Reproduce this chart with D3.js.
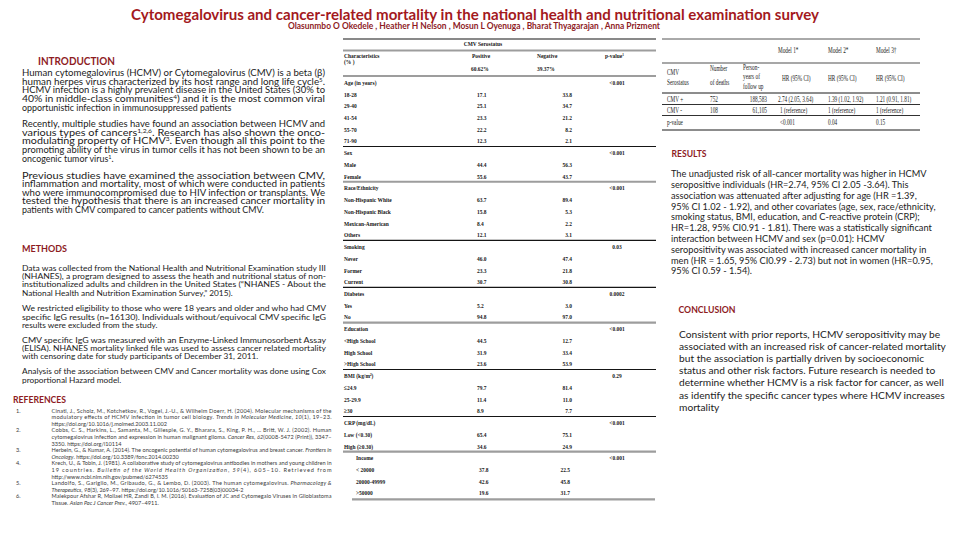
<!DOCTYPE html>
<html><head><meta charset="utf-8">
<script src="https://cdn.jsdelivr.net/npm/d3@7"></script>
<style>body{margin:0;background:#fff}svg{display:block}</style>
</head><body>
<svg id="poster" width="960" height="540"></svg>
<script>
// ================= DATA =================
const title = "Cytomegalovirus and cancer-related mortality in the national health and nutritional examination survey";
const authors = "Olasunmbo O Okedele , Heather H Nelson , Mosun L Oyenuga , Bharat Thyagarajan , Anna Prizment";

const introParagraphs = [
  ["Human cytomegalovirus (HCMV) or Cytomegalovirus (CMV) is a beta (β)",
   "human herpes virus characterized by its host range and long life cycle^{5}.",
   "HCMV infection is a highly prevalent disease in the United States (30% to",
   "40% in middle-class communities^{4}) and it is the most common viral",
   "opportunistic infection in immunosuppressed patients"],
  ["Recently, multiple studies have found an association between HCMV and",
   "various types of cancers^{1,2,6}. Research has also shown the onco-",
   "modulating property of HCMV^{3}. Even though all this point to the",
   "promoting ability of the virus in tumor cells it has not been shown to be an",
   "oncogenic tumor virus^{1}."],
  ["Previous studies have examined the association between CMV,",
   "inflammation and mortality, most of which were conducted in patients",
   "who were immunocompromised due to HIV infection or transplants. We",
   "tested the hypothesis that there is an increased cancer mortality in",
   "patients with CMV compared to cancer patients without CMV."]
];

const methodsParagraphs = [
  ["Data was collected from the National Health and Nutritional Examination study III",
   "(NHANES), a program designed to assess the heath and nutritional status of non-",
   "institutionalized adults and children in the United States (“NHANES - About the",
   "National Health and Nutrition Examination Survey,” 2015)."],
  ["We restricted eligibility to those who were 18 years and older and who had CMV",
   "specific IgG results (n=16130). Individuals without/equivocal CMV specific IgG",
   "results were excluded from the study."],
  ["CMV specific IgG was measured with an Enzyme-Linked Immunosorbent Assay",
   "(ELISA). NHANES mortality linked file was used to assess cancer related mortality",
   "with censoring date for study participants of December 31, 2011."],
  ["Analysis of the association between CMV and Cancer mortality was done using Cox",
   "proportional Hazard model."]
];

const references = [
  ["Cinatl, J., Scholz, M., Kotchetkov, R., Vogel, J.-U., & Wilhelm Doerr, H. (2004). Molecular mechanisms of the",
   "modulatory effects of HCMV infection in tumor cell biology. *Trends in Molecular Medicine*, *10*(1), 19–23.",
   "https://doi.org/10.1016/j.molmed.2003.11.002"],
  ["Cobbs, C. S., Harkins, L., Samanta, M., Gillespie, G. Y., Bharara, S., King, P. H., … Britt, W. J. (2002). Human",
   "cytomegalovirus infection and expression in human malignant glioma. *Cancer Res*, *62*(0008-5472 (Print)), 3347–",
   "3350. https://doi.org/l10114"],
  ["Herbein, G., & Kumar, A. (2014). The oncogenic potential of human cytomegalovirus and breast cancer. *Frontiers in*",
   "*Oncology*. https://doi.org/10.3389/fonc.2014.00230"],
  ["Krech, U., & Tobin, J. (1981). A collaborative study of cytomegalovirus antibodies in mothers and young children in",
   "19 countries. *Bulletin of the World Health Organization*, *59*(4), 605–10. Retrieved from",
   "http://www.ncbi.nlm.nih.gov/pubmed/6274535"],
  ["Landolfo, S., Gariglio, M., Gribaudo, G., & Lembo, D. (2003). The human cytomegalovirus. *Pharmacology &*",
   "*Therapeutics*, *98*(3), 269–97. https://doi.org/10.1016/S0163-7258(03)00034-2"],
  ["Malekpour Afshar R, Mollaei HR, Zandi B, I. M. (2016). Evaluation of JC and Cytomegalo Viruses in Glioblastoma",
   "Tissue. *Asian Pac J Cancer Prev.*, 4907–4911."]
];

const resultsLines = [
  "The unadjusted risk of all-cancer mortality was higher in HCMV",
  "seropositive individuals (HR=2.74, 95% CI 2.05 -3.64). This",
  "association was attenuated after adjusting for age (HR =1.39,",
  "95% CI 1.02 - 1.92), and other covariates (age, sex, race/ethnicity,",
  "smoking status, BMI, education, and C-reactive protein (CRP);",
  "HR=1.28, 95% CI0.91 - 1.81).  There was a statistically significant",
  "interaction between HCMV and sex (p=0.01): HCMV",
  "seropositivity was associated with increased cancer mortality in",
  "men (HR = 1.65, 95% CI0.99 - 2.73) but not in women (HR=0.95,",
  "95% CI 0.59 - 1.54)."
];

const conclusionLines = [
  "Consistent with prior reports, HCMV seropositivity may be",
  "associated with an increased risk of cancer-related mortality",
  "but the association is partially driven by socioeconomic",
  "status and other risk factors. Future research is needed to",
  "determine whether HCMV is a risk factor for cancer, as well",
  "as identify the specific cancer types where HCMV increases",
  "mortality"
];

// Table 1: characteristics by CMV serostatus
const serostatusShare = ["60.62%", "39.37%"];
const groups = ["Age (in years)", "Sex", "Race/Ethnicity", "Smoking", "Diabetes", "Education", "BMI (kg/m²)", "CRP (mg/dL)", "Income"];
const groupP = ["<0.001", "<0.001", "<0.001", "0.03", "0.0002", "<0.001", "0.29", "<0.001", "<0.001"];
const levels = [
  ["18-28", "29-40", "41-54", "55-70", "71-90"],
  ["Male", "Female"],
  ["Non-Hispanic White", "Non-Hispanic Black", "Mexican-American", "Others"],
  ["Never", "Former", "Current"],
  ["Yes", "No"],
  ["<High School", "High School", ">High School"],
  ["≤24.9", "25-29.9", "≥30"],
  ["Low (<0.30)", "High (≥0.30)"],
  ["< 20000", "20000-49999", ">50000"]
];
const positivePct = [[17.1, 25.1, 23.3, 22.2, 12.3], [44.4, 55.6], [63.7, 15.8, 8.4, 12.1], [46.0, 23.3, 30.7], [5.2, 94.8], [44.5, 31.9, 23.6], [79.7, 11.4, 8.9], [65.4, 34.6], [37.8, 42.6, 19.6]];
const negativePct = [[33.8, 34.7, 21.2, 8.2, 2.1], [56.3, 43.7], [89.4, 5.3, 2.2, 3.1], [47.4, 21.8, 30.8], [3.0, 97.0], [12.7, 33.4, 53.9], [81.4, 11.0, 7.7], [75.1, 24.9], [22.5, 45.8, 31.7]];

// Table 2: hazard ratios
const serostatus = ["CMV +", "CMV -"];
const deaths = [752, 108];
const personYears = [188583, 61105];
const models = ["Model 1*", "Model 2*", "Model 3†"];
const hrPositive = [2.74, 1.39, 1.21];
const ciLow = [2.05, 1.02, 0.91];
const ciHigh = [3.64, 1.92, 1.81];
const modelP = ["<0.001", "0.04", "0.15"];

// ================= DRAWING =================
const svg = d3.select("#poster");
const SANS = "Lato, 'Open Sans', sans-serif";
const SERIF = "'Liberation Serif', 'DejaVu Serif', serif";
const TITLE_RED = "#a3191d";
const HEAD_RED = "#8e1c1f";

function addRich(t, str) {
  str.split(/(\^\{[^}]*\}|\*[^*]+\*)/).filter(s => s.length).forEach(p => {
    if (p.startsWith("^{")) t.append("tspan").attr("baseline-shift", "super").style("font-size", "0.62em").text(p.slice(2, -1));
    else if (p.length > 1 && p.startsWith("*") && p.endsWith("*")) t.append("tspan").style("font-style", "italic").text(p.slice(1, -1));
    else t.append("tspan").text(p);
  });
}

function fitted(text, x, y, size, w, color, weight) {
  svg.append("text").attr("x", x).attr("y", y).attr("dy", "0.35em")
    .attr("font-family", SANS).attr("font-weight", weight || 700).attr("font-size", size)
    .attr("fill", color).attr("textLength", w).attr("lengthAdjust", "spacingAndGlyphs").text(text);
}

function block(paras, o) {
  const g = svg.append("g").attr("font-family", SANS).attr("fill", o.fill || "#1c1c1c");
  const items = [];
  paras.forEach((lines, pi) => lines.forEach((ln, li) => {
    const t = g.append("text").attr("x", o.x).attr("y", o.starts[pi] + li * o.lh).attr("dy", "0.35em").attr("font-size", 10);
    addRich(t, ln);
    items.push({ t, last: li === lines.length - 1 });
  }));
  const maxW = d3.max(items, d => d.t.node().getComputedTextLength());
  let size = 10 * o.fitWidth / maxW;
  if (o.maxSize) size = Math.min(size, o.maxSize);
  items.forEach(d => d.t.attr("font-size", size));
  if (o.justify) items.filter(d => !d.last).forEach(d => d.t.attr("textLength", o.width).attr("lengthAdjust", o.adjust || "spacing"));
  return g;
}

// Title & authors
fitted(title, 131, 14, 16, 688, TITLE_RED, 700);
fitted(authors, 288, 26.5, 8.5, 372, HEAD_RED, 700);

// Introduction
fitted("INTRODUCTION", 38, 61, 11, 77, HEAD_RED);
block(introParagraphs, { x: 22, starts: [73, 124, 175.5], lh: 8.6, width: 303, fitWidth: 300, maxSize: 8.9, justify: true, adjust: "spacingAndGlyphs" });

// Methods
fitted("METHODS", 22, 248, 10, 45, HEAD_RED);
block(methodsParagraphs, { x: 22, starts: [268, 308.5, 340, 371.5], lh: 8.3, width: 304, fitWidth: 302, maxSize: 8.4, justify: true, adjust: "spacingAndGlyphs" });

// References
fitted("REFERENCES", 13, 399, 10, 53, HEAD_RED);
{
  const starts = [];
  let acc = 0;
  references.forEach(r => { starts.push(410.7 + acc * 6.6); acc += r.length; });
  const rg = block(references, { x: 51.5, starts, lh: 6.6, width: 280, fitWidth: 278, justify: true, fill: "#3a3a3a" });
  const fs = rg.select("text").attr("font-size");
  rg.selectAll("text.num").data(references).join("text").attr("class", "num")
    .attr("x", 16).attr("y", (d, i) => starts[i]).attr("dy", "0.35em").attr("font-size", fs)
    .text((d, i) => (i + 1) + ".");
}

// Results
fitted("RESULTS", 671.5, 154, 8.5, 35, HEAD_RED);
block([resultsLines], { x: 671, starts: [174], lh: 10.8, fitWidth: 265, justify: false });

// Conclusion
fitted("CONCLUSION", 678.5, 310, 9, 57, HEAD_RED);
block([conclusionLines], { x: 679, starts: [334], lh: 12.2, fitWidth: 267, justify: false });

// ---------- Table 1 ----------
function ctext(g, x, y, str, anchor, size, sx, weight) {
  return g.append("text").attr("transform", `translate(${x},${y}) scale(${sx},1)`)
    .attr("dy", "0.35em").attr("text-anchor", anchor || "start").attr("font-size", size)
    .attr("font-weight", weight || 400).text(str);
}
{
  const g = svg.append("g").attr("font-family", SERIF).attr("fill", "#151515");
  const X0 = 343, X1 = 656;
  const hline = (y, kind, xa, xb) => g.append("line").attr("x1", xa ?? X0).attr("x2", xb ?? X1).attr("y1", y).attr("y2", y)
    .attr("stroke", kind === "g" ? "#9d9d9d" : "#151515").attr("stroke-width", kind === "g" ? 2.2 : 1.1);
  hline(39, "k");
  hline(50.5, "g");
  hline(76, "g");
  const S = 7.1, SX = 0.77;
  ctext(g, 483, 44, "CMV Serostatus", "middle", S, SX, 700);
  ctext(g, 344, 55.5, "Characteristics", "start", S, SX, 700);
  ctext(g, 344, 62, "(% )", "start", S, SX, 700);
  ctext(g, 472, 56, "Positive", "start", S, SX, 700);
  ctext(g, 537, 56, "Negative", "start", S, SX, 700);
  const pv = ctext(g, 605, 56, "p-value", "start", S, SX, 700);
  pv.append("tspan").attr("baseline-shift", "super").style("font-size", "0.6em").text("1");
  ctext(g, 471, 69, serostatusShare[0], "start", S, SX, 700);
  ctext(g, 537, 69, serostatusShare[1], "start", S, SX, 700);

  const flat = [];
  const lastIdx = [];
  groups.forEach((name, gi) => {
    flat.push({ label: name, p: groupP[gi], gi, header: true });
    levels[gi].forEach((lv, li) => flat.push({ label: lv, pos: positivePct[gi][li], neg: negativePct[gi][li], gi }));
    lastIdx.push(flat.length - 1);
  });
  const yRow = d3.scaleLinear().domain([0, flat.length - 1]).range([82.3, 493]);
  const f1 = d3.format(".1f");
  const isIncome = d => d.gi === groups.length - 1;
  flat.forEach((d, i) => {
    const y = yRow(i);
    ctext(g, 344 + (isIncome(d) ? 12 : 0), y, d.label, "start", S, SX, 700);
    if (d.header) ctext(g, 617, y, d.p, "middle", S, SX, 700);
    else {
      ctext(g, 477 + (isIncome(d) ? 2 : 0), y, f1(d.pos), "start", S, SX, 700);
      ctext(g, 572 - (isIncome(d) ? 2 : 0), y, f1(d.neg), "end", S, SX, 700);
    }
  });
  const sepKinds = ["k", "g", "k", "k", "g", "k", "k", "g", "g"];
  lastIdx.forEach((li, gi) => {
    if (gi < lastIdx.length - 1) hline((yRow(li) + yRow(li + 1)) / 2 - 0.3, sepKinds[gi]);
    else hline(yRow(li) + 6.3, sepKinds[gi], 352, 655);
  });
}

// ---------- Table 2 ----------
{
  const g = svg.append("g").attr("font-family", SERIF).attr("fill", "#1a1a1a");
  const X0 = 662, X1 = 920;
  const hline = (y, c, w) => g.append("line").attr("x1", X0).attr("x2", X1).attr("y1", y).attr("y2", y).attr("stroke", c).attr("stroke-width", w);
  hline(39, "#555", 1);
  hline(63, "#8a8a8a", 1.6);
  hline(93, "#1a1a1a", 1);
  hline(104.5, "#1a1a1a", 0.9);
  hline(115.5, "#1a1a1a", 0.9);
  hline(130, "#1a1a1a", 1);
  const S = 7.8, SX = 0.68;
  const mx = [778, 828, 876];
  models.forEach((m, i) => ctext(g, mx[i], 50.5, m, "start", S, SX));
  ctext(g, 667, 72.5, "CMV", "start", S, SX);
  ctext(g, 667, 82.5, "Serostatus", "start", S, SX);
  ctext(g, 710, 68, "Number", "start", S, SX);
  ctext(g, 710, 82.5, "of deaths", "start", S, SX);
  ctext(g, 743, 67, "Person-", "start", S, SX);
  ctext(g, 743, 76.5, "years of", "start", S, SX);
  ctext(g, 743, 86, "follow up", "start", S, SX);
  mx.forEach((x, i) => ctext(g, x + (i === 0 ? 4 : 0), 78, "HR (95% CI)", "start", S, SX));
  const rowY = [99.3, 110];
  const fmt2 = d3.format(".2f");
  const comma = d3.format(",");
  serostatus.forEach((s, r) => {
    ctext(g, 667, rowY[r], s, "start", S, SX);
    ctext(g, 710, rowY[r], String(deaths[r]), "start", S, SX);
    ctext(g, 767, rowY[r], comma(personYears[r]), "end", S, SX);
  });
  mx.forEach((x, i) => {
    ctext(g, x, rowY[0], `${fmt2(hrPositive[i])} (${fmt2(ciLow[i])}, ${fmt2(ciHigh[i])})`, "start", S, SX);
    ctext(g, x + (i === 0 ? 2 : 0), rowY[1], "1 (reference)", "start", S, SX);
    ctext(g, x + (i === 0 ? 2 : 0), 122.5, modelP[i], "start", S, SX);
  });
  ctext(g, 667, 122.5, "p-value", "start", S, SX);
}
</script>
</body></html>
